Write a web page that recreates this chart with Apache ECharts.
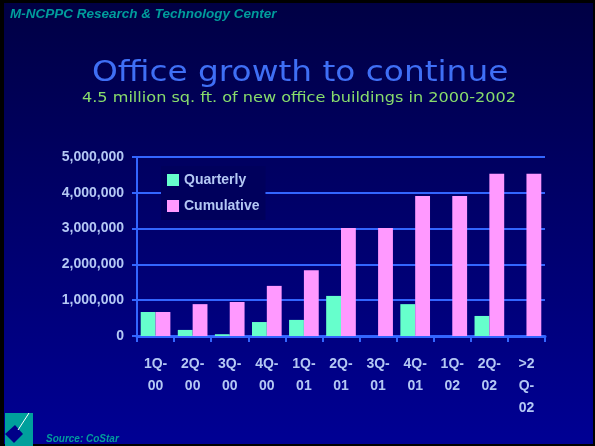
<!DOCTYPE html>
<html>
<head>
<meta charset="utf-8">
<script src="https://cdn.jsdelivr.net/npm/echarts@6/dist/echarts.min.js"></script>
<style>
  html, body { margin: 0; padding: 0; background: #000; }
  #chart { width: 595px; height: 446px; }
</style>
</head>
<body>
<div id="chart"></div>
<script>
const categories = ['1Q-00', '2Q-00', '3Q-00', '4Q-00', '1Q-01', '2Q-01', '3Q-01', '4Q-01', '1Q-02', '2Q-02', '>2Q-02'];
const quarterly = [670000, 170000, 50000, 390000, 450000, 1120000, 0, 890000, 0, 560000, 0];
const cumulative = [670000, 890000, 950000, 1400000, 1840000, 3020000, 3020000, 3910000, 3910000, 4530000, 4530000];
const yTicks = [0, 1000000, 2000000, 3000000, 4000000, 5000000];

const chart = echarts.init(document.getElementById('chart'), null, { renderer: 'canvas' });
const labelColor = '#b4c8f4';
const gridBlue = '#3366ff';
const arial = 'Liberation Sans';

chart.setOption({
  backgroundColor: '#000000',
  animation: false,
  graphic: [
    {
      type: 'rect', z: -10, silent: true,
      shape: { x: 4, y: 3, width: 589, height: 441 },
      style: {
        fill: new echarts.graphic.LinearGradient(0, 0, 0, 1, [
          { offset: 0, color: '#000044' },
          { offset: 1, color: '#000094' }
        ])
      }
    },
    {
      type: 'text', left: 10, top: 7,
      style: { text: 'M-NCPPC Research & Technology Center', fill: '#009c9c', fontStyle: 'italic', fontWeight: 'bold', fontSize: 13.5, fontFamily: arial }
    },
    {
      type: 'text', x: 92, y: 73, scaleX: 1.13,
      style: { text: 'Office growth to continue', fill: '#3f6ff5', fontSize: 29, fontFamily: 'DejaVu Sans', align: 'left', verticalAlign: 'middle' }
    },
    {
      type: 'text', x: 82, y: 98, scaleX: 1.11,
      style: { text: '4.5 million sq. ft. of new office buildings in 2000-2002', fill: '#88dc6c', fontSize: 14.5, fontFamily: 'DejaVu Sans', align: 'left', verticalAlign: 'middle' }
    },
    {
      type: 'rect', silent: true,
      shape: { x: 5, y: 413, width: 28, height: 33 },
      style: { fill: '#00a09c' }
    },
    {
      type: 'polygon', silent: true,
      shape: { points: [[15, 425], [23, 434], [14, 443], [5, 434]] },
      style: { fill: '#000088' }
    },
    {
      type: 'line', silent: true,
      shape: { x1: 29, y1: 413, x2: 18, y2: 430 },
      style: { stroke: '#ffffff', lineWidth: 1 }
    },
    {
      type: 'text', left: 46, top: 434,
      style: { text: 'Source: CoStar', fill: '#009c9c', fontStyle: 'italic', fontWeight: 'bold', fontSize: 10, fontFamily: arial }
    }
  ],
  legend: {
    orient: 'vertical',
    left: 161, top: 166,
    padding: [7, 6, 7, 6],
    itemWidth: 12, itemHeight: 12, itemGap: 12,
    backgroundColor: '#00005c',
    icon: 'rect',
    textStyle: { color: labelColor, fontSize: 14, fontWeight: 'bold', fontFamily: arial },
    data: ['Quarterly', 'Cumulative']
  },
  grid: { left: 137, right: 50, top: 157, bottom: 110, containLabel: false },
  xAxis: {
    type: 'category',
    data: categories,
    axisLine: { show: true, lineStyle: { color: gridBlue, width: 3 } },
    axisTick: { show: true, inside: false, length: 6, lineStyle: { color: gridBlue, width: 2 } },
    axisLabel: {
      color: labelColor, fontSize: 14, fontWeight: 'bold', fontFamily: arial,
      margin: 17, lineHeight: 22, interval: 0,
      formatter: v => v === '>2Q-02' ? '>2\nQ-\n02' : v.replace('-', '-\n')
    }
  },
  yAxis: {
    type: 'value',
    min: 0, max: 5000000, interval: 1000000,
    axisLine: { show: true, lineStyle: { color: gridBlue, width: 2 } },
    axisTick: { show: true, length: 5, lineStyle: { color: gridBlue, width: 2 } },
    splitLine: { show: true, lineStyle: { color: gridBlue, width: 2 } },
    axisLabel: {
      color: labelColor, fontSize: 14, fontWeight: 'bold', fontFamily: arial,
      margin: 13,
      formatter: v => yTicks.includes(v) ? v.toLocaleString('en-US') : ''
    }
  },
  series: [
    { name: 'Quarterly', type: 'bar', data: quarterly, itemStyle: { color: '#66ffcc' }, barGap: '0%', barCategoryGap: '20%' },
    { name: 'Cumulative', type: 'bar', data: cumulative, itemStyle: { color: '#ff99ff' }, barGap: '0%', barCategoryGap: '20%' }
  ]
});
</script>
</body>
</html>
